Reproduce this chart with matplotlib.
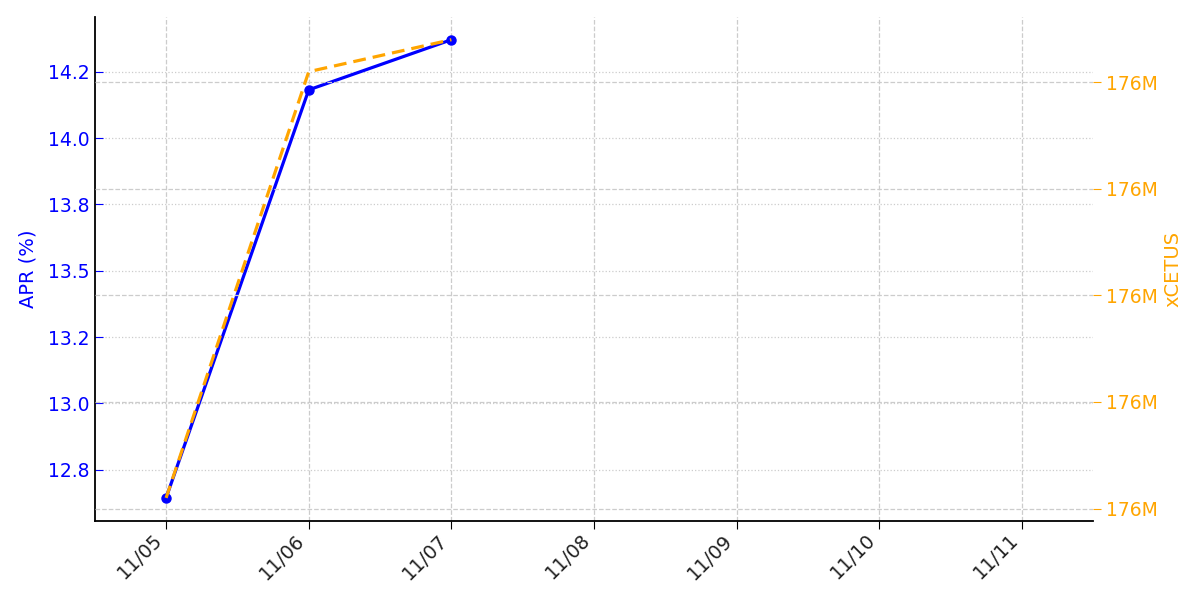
import matplotlib
matplotlib.use("Agg")
import matplotlib.pyplot as plt
import matplotlib.dates as mdates
import matplotlib.ticker as mticker
import pandas as pd

dates = ["2024-11-05", "2024-11-06", "2024-11-07"]
apr = [12.644, 14.182, 14.371]
xcetus = [176120200, 176128200, 176128800]
x_start = "2024-11-04 12:00"
x_end = "2024-11-11 12:00"

d = pd.to_datetime(dates)

fig = plt.figure(figsize=(12, 6), dpi=100)
ax1 = fig.add_axes([0.079, 0.132, 0.832, 0.840])
ax2 = ax1.twinx()

ax1.plot(d, apr, color="blue", linewidth=2.3, marker="o", markersize=6.5, zorder=3)
ax2.plot(d, xcetus, color="orange", linewidth=2.3, linestyle="--", dashes=(4, 2.2))

ax1.set_xlim(pd.Timestamp(x_start), pd.Timestamp(x_end))
ax1.xaxis.set_major_locator(mdates.DayLocator())
ax1.xaxis.set_major_formatter(mdates.DateFormatter("%m/%d"))

ax1.yaxis.set_major_locator(mticker.MultipleLocator(0.25))
ax1.yaxis.set_major_formatter(mticker.FormatStrFormatter("%.1f"))
ax2.yaxis.set_major_locator(mticker.MultipleLocator(2000))
ax2.yaxis.set_major_formatter(mticker.FuncFormatter(lambda v, p: f"{v/1e6:.0f}M"))

ax1.set_ylabel("APR (%)", color="blue", fontsize=14, labelpad=8)
ax2.set_ylabel("xCETUS", color="orange", fontsize=14, labelpad=4)

ax1.tick_params(axis="y", colors="blue", labelsize=13.5, direction="in", length=6)
ax1.tick_params(axis="x", labelsize=13.8, length=6, colors="black", pad=1)
ax2.tick_params(axis="y", colors="orange", labelsize=13.5, length=6, pad=3)
for lab in ax1.get_xticklabels():
    lab.set_color("#222222")
    lab.set_rotation(45)
    lab.set_ha("right")

ax1.xaxis.grid(True, linestyle="--", color="#cccccc", linewidth=0.9)
ax1.yaxis.grid(True, linestyle=":", color="#cccccc", linewidth=0.9)
ax2.yaxis.grid(True, linestyle="--", color="#cccccc", linewidth=0.9)
ax1.set_axisbelow(True)

for ax in (ax1, ax2):
    ax.spines["top"].set_visible(False)
    ax.spines["right"].set_visible(False)
ax2.spines["left"].set_visible(False)
ax2.spines["bottom"].set_visible(False)
ax1.spines["left"].set_linewidth(1.3)
ax1.spines["bottom"].set_linewidth(1.3)

fig.savefig("out.png", dpi=100)
